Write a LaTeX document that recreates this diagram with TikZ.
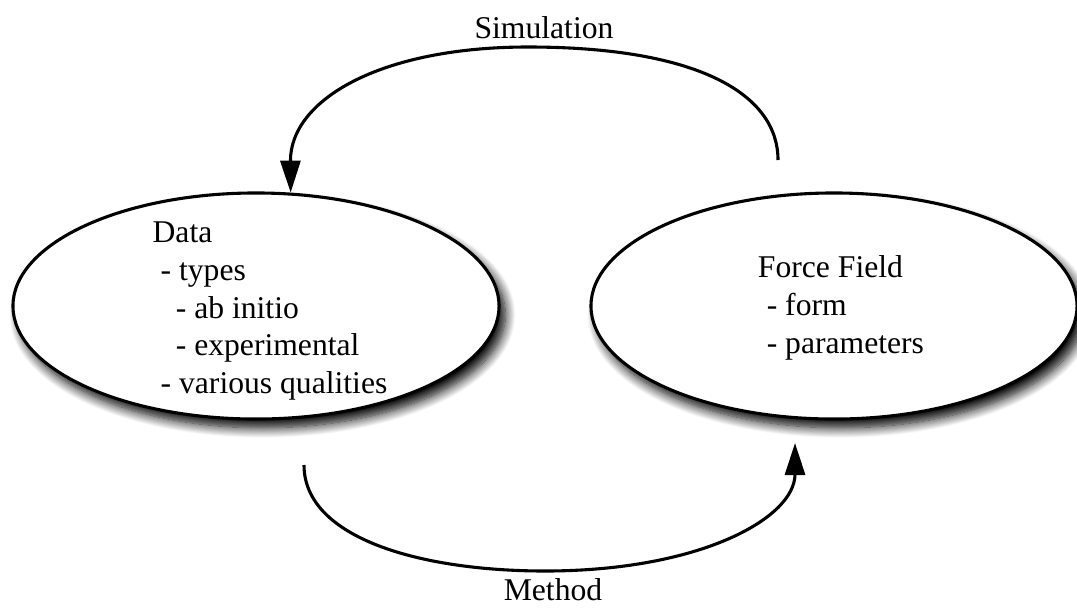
\documentclass[tikz,border=0pt]{standalone}
\usepackage{fontspec}
\setmainfont{Liberation Serif}
\usetikzlibrary{shapes.geometric, arrows.meta, shadows.blur, positioning}
\begin{document}
\begin{tikzpicture}[x=0.025cm, y=-0.025cm, every node/.style={font=\fontsize{22.5}{27}\selectfont}]
    \tikzstyle{topic} = [ellipse, draw=black, line width=2.2pt, fill=white, minimum width=12.15cm, minimum height=5.65cm, blur shadow={shadow xshift=0.16cm, shadow yshift=-0.22cm, shadow blur radius=0.25cm, shadow blur steps=12, shadow opacity=100}]
    \tikzstyle{topictext} = [align=left, inner sep=0pt]
    \tikzstyle{cycle} = [line width=2.2pt, -{Triangle[length=0.8cm, width=0.5cm]}]
    \tikzstyle{cyclelabel} = [inner sep=0pt, anchor=base]

    \useasboundingbox (0,0) rectangle (1077,607);

    % Ellipses
    \node [topic] (data) at (256,306) {};
    \node [topic] (ff) at (834,306) {};

    % Ellipse contents
    \node [topictext] (datatext) at (270,311) {Data\\\hspace*{0.2cm}- types\\\hspace*{0.58cm}- ab initio\\\hspace*{0.58cm}- experimental\\\hspace*{0.2cm}- various qualities};
    \node [topictext] (fftext) at (841,308) {Force Field\\\hspace*{0.22cm}- form\\\hspace*{0.22cm}- parameters};

    % Free ends
    \coordinate (simstart) at (778,160);
    \coordinate (methodstart) at (304,465);
    \coordinate (methodend) at (795,443);

    % Connections
    \draw [cycle] (simstart) .. controls (778,95) and (700,47) .. (528,47) .. controls (380,47) and (290,100) .. (data.73);
    \draw [cycle] (methodstart) .. controls (304,538) and (420,571) .. (545,571) .. controls (700,571) and (795,518) .. (methodend);

    % Labels
    \node [cyclelabel] (simulation) at (544,38) {Simulation};
    \node [cyclelabel] (method) at (553,600) {Method};
\end{tikzpicture}
\end{document}
